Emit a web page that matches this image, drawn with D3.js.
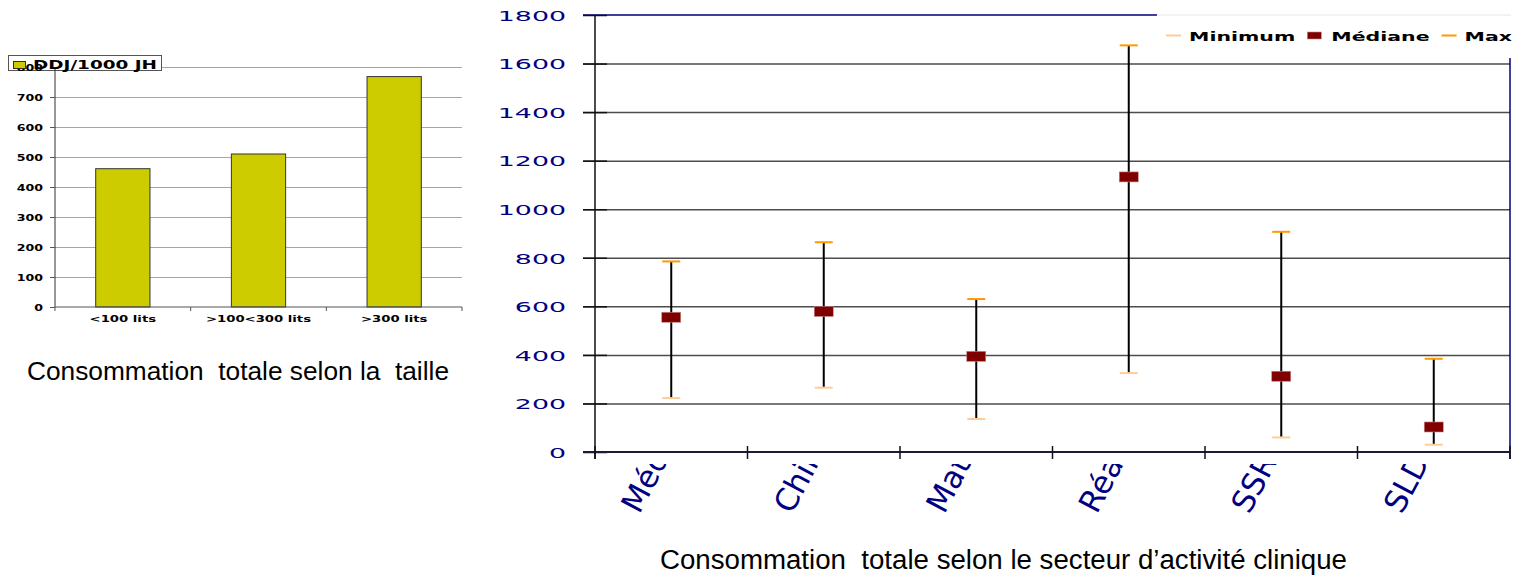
<!DOCTYPE html>
<html>
<head>
<meta charset="utf-8">
<script src="https://cdn.jsdelivr.net/npm/d3@7"></script>
<style>
  body { margin: 0; background: #fff; }
  svg { display: block; }
  text { white-space: pre; }
</style>
</head>
<body>
<svg id="chart" width="1517" height="579"></svg>
<script>
// Left chart: total consumption by hospital size
const sizeCategories = ["<100 lits", ">100<300 lits", ">300 lits"];
const sizeValues = [461, 510, 768];
const sizeTicks = [0, 100, 200, 300, 400, 500, 600, 700, 800];
const sizeSeriesName = "DDJ/1000 JH";

// Right chart: min / median / max by clinical sector
const sectors = ["Médecine", "Chirurgie", "Maternité", "Réanimation", "SSR", "SLD"];
const minValues = [222, 265, 136, 325, 60, 30];
const medianValues = [555, 579, 394, 1133, 312, 103];
const maxValues = [785, 864, 630, 1675, 907, 384];
const sectorTicks = [0, 200, 400, 600, 800, 1000, 1200, 1400, 1600, 1800];
const legendLabels = ["Minimum", "Médiane", "Maximum"];

const captions = [
  "Consommation  totale selon la  taille",
  "Consommation  totale selon le secteur d\u2019activité clinique"
];

const svg = d3.select("#chart");
const defs = svg.append("defs");
const BOLD = "'DejaVu Sans', Verdana, sans-serif";
const SANS = "'Liberation Sans', Arial, sans-serif";
const fmt = d3.format("d");

/* ---------------- left chart ---------------- */
const L = { left: 55, right: 462, top: 67, bottom: 307 };
const yL = d3.scaleLinear().domain([0, 800]).range([L.bottom, L.top]);
const xL = d3.scaleBand().domain(sizeCategories).range([L.left, L.right])
  .paddingInner(0.6).paddingOuter(0.3);
const sxL = 1.4;

const gL = svg.append("g");

// gridlines
gL.append("g")
  .attr("transform", `translate(${L.left},0)`)
  .call(d3.axisLeft(yL).tickValues(sizeTicks.filter(d => d > 0))
    .tickSize(-(L.right - L.left)).tickFormat(""))
  .call(g => g.select(".domain").remove())
  .selectAll("line").attr("stroke", "#a6a6a6").attr("stroke-width", 1);

// bars
gL.append("g").selectAll("rect").data(sizeValues).join("rect")
  .attr("x", (d, i) => xL(sizeCategories[i]))
  .attr("y", d => yL(d))
  .attr("width", xL.bandwidth())
  .attr("height", d => yL(0) - yL(d))
  .attr("fill", "#CCCC00")
  .attr("stroke", "#333")
  .attr("stroke-width", 1);

// legend frame (white, over the top gridline)
gL.append("rect").attr("x", 8.5).attr("y", 55.5).attr("width", 153).attr("height", 15)
  .attr("fill", "#fff").attr("stroke", "#555").attr("stroke-width", 1);

// y axis
const axL = gL.append("g")
  .attr("transform", `translate(${L.left},0)`)
  .call(d3.axisLeft(yL).tickValues(sizeTicks).tickSize(5).tickPadding(0).tickFormat(fmt));
axL.select(".domain").attr("stroke", "#333").attr("d", `M0,${L.top}V${L.bottom}`);
axL.selectAll(".tick line").attr("stroke", "#555");
axL.selectAll(".tick text")
  .attr("x", -12 / sxL).attr("dy", "0.35em")
  .attr("transform", `scale(${sxL},1)`)
  .attr("font-family", BOLD).attr("font-weight", "bold")
  .attr("font-size", 9).attr("fill", "#000");

// x axis
const axXL = gL.append("g").attr("transform", `translate(0,${L.bottom})`);
axXL.append("line").attr("x1", L.left).attr("x2", L.right)
  .attr("stroke", "#555").attr("stroke-width", 1);
const boundsL = sizeCategories.map(c => xL(c) - xL.step() * xL.paddingOuter()).concat([L.right]);
axXL.selectAll(".tk").data(boundsL).join("line").attr("class", "tk")
  .attr("x1", d => d).attr("x2", d => d).attr("y1", 0).attr("y2", 4)
  .attr("stroke", "#555");
axXL.selectAll("text").data(sizeCategories).join("text")
  .attr("transform", d => `translate(${xL(d) + xL.bandwidth() / 2},15) scale(1.47,1)`)
  .attr("text-anchor", "middle")
  .attr("font-family", BOLD).attr("font-weight", "bold")
  .attr("font-size", 9).attr("fill", "#000")
  .text(d => d);

// legend contents
gL.append("rect").attr("x", 13.5).attr("y", 61.5).attr("width", 12).attr("height", 7)
  .attr("fill", "#CCCC00").attr("stroke", "#333").attr("stroke-width", 1);
gL.append("text")
  .attr("x", 33).attr("y", 69)
  .attr("textLength", 124).attr("lengthAdjust", "spacingAndGlyphs")
  .attr("font-family", BOLD).attr("font-weight", "bold")
  .attr("font-size", 11.5).attr("fill", "#000")
  .text(sizeSeriesName);

// caption
svg.append("text")
  .attr("x", 27).attr("y", 380)
  .attr("textLength", 422).attr("lengthAdjust", "spacingAndGlyphs")
  .attr("font-family", SANS)
  .attr("font-size", 26).attr("fill", "#000")
  .text(captions[0]);

/* ---------------- right chart ---------------- */
const R = { left: 595, right: 1510, top: 15, bottom: 452 };
const yR = d3.scaleLinear().domain([0, 1800]).range([R.bottom, R.top]);
const xR = d3.scaleBand().domain(sectors).range([R.left, R.right]);
const sxR = 1.85;
const NAVY = "#000080";

const gR = svg.append("g");

// gridlines
gR.append("g")
  .attr("transform", `translate(${R.left - 12},0)`)
  .call(d3.axisLeft(yR).tickValues(sectorTicks.filter(d => d > 0 && d < 1800))
    .tickSize(-(R.right - R.left + 12)).tickFormat(""))
  .call(g => g.select(".domain").remove())
  .selectAll("line").attr("stroke", "#4d4d4d").attr("stroke-width", 1.5);

// plot border: top & right in navy
gR.append("line").attr("x1", R.left - 12).attr("x2", R.right)
  .attr("y1", yR(1800)).attr("y2", yR(1800)).attr("stroke", NAVY).attr("stroke-width", 1.5);
gR.append("line").attr("x1", R.right).attr("x2", R.right)
  .attr("y1", R.top).attr("y2", R.bottom + 7).attr("stroke", NAVY).attr("stroke-width", 1.5);

// y axis with crossing ticks
const axR = gR.append("g")
  .attr("transform", `translate(${R.left + 12},0)`)
  .call(d3.axisLeft(yR).tickValues(sectorTicks).tickSize(24).tickPadding(0).tickFormat(fmt));
axR.select(".domain").remove();
axR.selectAll(".tick line").attr("stroke", "#111").attr("stroke-width", 1.5);
axR.selectAll(".tick text")
  .attr("x", -(R.left + 12 - 566) / sxR).attr("dy", "0.36em")
  .attr("transform", `scale(${sxR},1)`)
  .attr("font-family", BOLD).attr("font-size", 14.5).attr("fill", NAVY);
gR.append("line").attr("x1", R.left).attr("x2", R.left)
  .attr("y1", R.top).attr("y2", R.bottom + 7).attr("stroke", "#111").attr("stroke-width", 1.5);

// x axis
gR.append("line").attr("x1", R.left - 12).attr("x2", R.right)
  .attr("y1", R.bottom).attr("y2", R.bottom).attr("stroke", "#1a1a3a").attr("stroke-width", 2);
const boundsR = sectors.map(s => xR(s)).concat([R.right]);
gR.selectAll(".xtk").data(boundsR).join("line").attr("class", "xtk")
  .attr("x1", d => d).attr("x2", d => d)
  .attr("y1", R.bottom - 6).attr("y2", R.bottom + 7)
  .attr("stroke", "#111").attr("stroke-width", 1.5);

// rotated sector labels, cut just below the axis band
defs.append("clipPath").attr("id", "xlabClip")
  .append("rect").attr("x", R.left - 40).attr("y", 464).attr("width", 1000).attr("height", 120);
gR.append("g").attr("clip-path", "url(#xlabClip)")
  .selectAll("text").data(sectors).join("text")
  .attr("transform", d => `translate(${xR(d) + xR.bandwidth() / 2 - 32},515) rotate(-62)`)
  .attr("font-family", BOLD).attr("font-size", 31).attr("fill", NAVY)
  .text(d => d);

// whiskers: min to max
const idx = d3.range(sectors.length);
const cx = i => xR(sectors[i]) + xR.bandwidth() / 2;
gR.append("g").selectAll("line").data(idx).join("line")
  .attr("x1", cx).attr("x2", cx)
  .attr("y1", i => yR(minValues[i])).attr("y2", i => yR(maxValues[i]))
  .attr("stroke", "#000").attr("stroke-width", 2);
// min caps
gR.append("g").selectAll("line").data(idx).join("line")
  .attr("x1", i => cx(i) - 9).attr("x2", i => cx(i) + 9)
  .attr("y1", i => yR(minValues[i])).attr("y2", i => yR(minValues[i]))
  .attr("stroke", "#FFCC99").attr("stroke-width", 2);
// max caps
gR.append("g").selectAll("line").data(idx).join("line")
  .attr("x1", i => cx(i) - 9).attr("x2", i => cx(i) + 9)
  .attr("y1", i => yR(maxValues[i])).attr("y2", i => yR(maxValues[i]))
  .attr("stroke", "#FF9900").attr("stroke-width", 2);
// median markers
gR.append("g").selectAll("rect").data(idx).join("rect")
  .attr("x", i => cx(i) - 9.5).attr("y", i => yR(medianValues[i]) - 5)
  .attr("width", 19).attr("height", 10)
  .attr("fill", "#800000").attr("stroke", "#c08a8a").attr("stroke-width", 0.6);

// legend
const legR = gR.append("g");
defs.append("clipPath").attr("id", "legClip")
  .append("rect").attr("x", 1157).attr("y", 14).attr("width", 1512.5 - 1157).attr("height", 44);
legR.append("rect").attr("x", 1157).attr("y", 14).attr("width", 360).attr("height", 44)
  .attr("fill", "#fff");
legR.append("line").attr("x1", 1157).attr("x2", 1511).attr("y1", 15).attr("y2", 15)
  .attr("stroke", "#e6e6e6").attr("stroke-width", 1);
const items = legR.append("g").attr("clip-path", "url(#legClip)");
const legColors = ["#FFCC99", "#800000", "#FF9900"];
let lx = 1166;
legendLabels.forEach((lab, i) => {
  if (i === 1) {
    items.append("rect").attr("x", lx).attr("y", 32).attr("width", 14).attr("height", 7)
      .attr("fill", legColors[i]).attr("stroke", "#c08a8a").attr("stroke-width", 0.6);
    lx += 14 + 10;
  } else {
    items.append("line").attr("x1", lx).attr("x2", lx + 15).attr("y1", 35.5).attr("y2", 35.5)
      .attr("stroke", legColors[i]).attr("stroke-width", 2);
    lx += 15 + 8;
  }
  const t = items.append("text")
    .attr("transform", `translate(${lx},40.5) scale(1.64,1)`)
    .attr("font-family", BOLD).attr("font-weight", "bold")
    .attr("font-size", 12.5).attr("fill", "#000")
    .text(lab);
  lx += t.node().getComputedTextLength() * 1.64 + 12;
});

// caption
svg.append("text")
  .attr("x", 660).attr("y", 569)
  .attr("textLength", 687).attr("lengthAdjust", "spacingAndGlyphs")
  .attr("font-family", SANS)
  .attr("font-size", 27).attr("fill", "#000")
  .text(captions[1]);
</script>
</body>
</html>
